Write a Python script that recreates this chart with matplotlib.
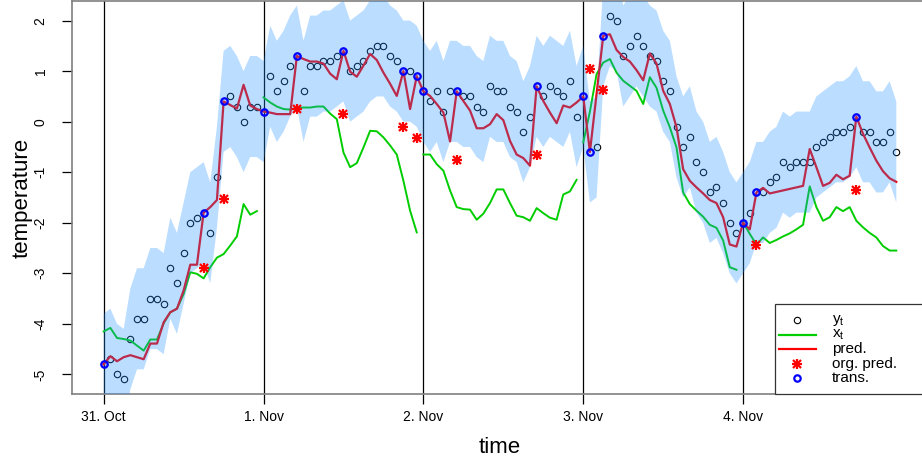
import numpy as np
import matplotlib
matplotlib.use("Agg")
import matplotlib.pyplot as plt
from matplotlib.lines import Line2D
from matplotlib.patches import Rectangle

plt.rcParams['font.family'] = ['Liberation Sans', 'DejaVu Sans']
plt.rcParams['mathtext.fontset'] = 'custom'
plt.rcParams['mathtext.rm'] = 'Liberation Sans'
plt.rcParams['mathtext.it'] = 'Liberation Sans'

# hourly series, 31 Oct 00:00 .. 4 Nov 23:00
y_t = [-4.8, -4.7, -5.0, -5.1, -4.3, -3.9, -3.9, -3.5, -3.5, -3.6,
       -2.9, -3.2, -2.6, -2.0, -1.9, -1.8, -2.2, -1.1, 0.4, 0.5,
       0.3, 0.0, 0.3, 0.3, 0.2, 0.9, 0.6, 0.8, 1.1, 1.3,
       0.6, 1.1, 1.1, 1.2, 1.2, 1.3, 1.4, 1.0, 1.1, 1.2,
       1.4, 1.5, 1.5, 1.3, 1.2, 1.0, 1.0, 0.9, 0.6, 0.4,
       0.6, 0.2, 0.6, 0.6, 0.5, 0.5, 0.3, 0.2, 0.7, 0.6,
       0.6, 0.3, 0.2, -0.2, 0.1, 0.7, 0.5, 0.7, 0.6, 0.5,
       0.8, 0.1, 0.5, -0.6, -0.5, 1.7, 2.1, 2.0, 1.3, 1.5,
       1.7, 1.5, 1.3, 1.2, 0.8, 0.6, -0.1, -0.5, -0.3, -0.8,
       -1.0, -1.4, -1.3, -1.6, -2.0, -2.2, -2.0, -1.8, -1.4, -1.4,
       -1.2, -1.1, -0.8, -0.9, -0.8, -0.8, -0.8, -0.5, -0.4, -0.3,
       -0.2, -0.2, -0.1, 0.1, -0.2, -0.2, -0.4, -0.4, -0.2, -0.6]

x_t = [-4.15, -4.08, -4.28, -4.30, -4.33, -4.43, -4.53, -4.31, -4.31, -3.99,
       -3.77, -3.70, -3.41, -2.98, -3.01, -3.10, -2.88, -2.69, -2.62, -2.45,
       -2.27, -1.63, -1.84, -1.77,
       0.48, 0.38, 0.30, 0.25, 0.24, 0.27, 0.28, 0.28, 0.30, 0.30,
       0.16, 0.05, -0.61, -0.90, -0.82, -0.51, -0.18, -0.19, -0.31, -0.47,
       -0.65, -1.17, -1.76, -2.19,
       -0.65, -0.65, -0.84, -0.97, -1.36, -1.69, -1.73, -1.74, -1.94, -1.82,
       -1.61, -1.34, -1.34, -1.61, -1.86, -1.89, -1.96, -1.71, -1.81, -1.90,
       -1.94, -1.44, -1.38, -1.15,
       -0.41, 0.20, 0.94, 1.17, 1.24, 0.97, 0.81, 0.71, 0.61, 0.35,
       0.88, 0.67, 0.22, -0.11, -0.51, -1.40, -1.63, -1.76, -1.88, -2.04,
       -2.10, -2.35, -2.88, -2.93,
       -1.99, -2.22, -2.43, -2.29, -2.40, -2.34, -2.27, -2.21, -2.13, -2.04,
       -1.28, -1.69, -1.96, -1.89, -1.69, -1.77, -1.69, -1.96, -2.09, -2.20,
       -2.29, -2.46, -2.55, -2.55]

pred = [-4.80, -4.64, -4.74, -4.66, -4.62, -4.66, -4.70, -4.39, -4.39, -3.97,
        -3.77, -3.70, -3.34, -2.83, -2.83, -1.80, -1.69, -1.55, 0.40, 0.33,
        0.26, 0.73, 0.32, 0.25, 0.20, 0.18, 0.15, 0.15, 0.15, 1.30,
        1.24, 1.19, 1.19, 1.15, 0.95, 0.84, 1.40, 0.99, 0.89, 1.11,
        1.34, 1.22, 0.97, 0.75, 0.51, 1.00, 0.25, 0.90, 0.60, 0.51,
        0.35, 0.18, -0.39, 0.60, 0.41, 0.22, -0.13, -0.13, -0.05, 0.15,
        0.03, -0.38, -0.65, -0.72, -0.87, 0.70, 0.41, 0.18, -0.03, 0.32,
        0.28, 0.38, 0.50, -0.60, 0.55, 1.70, 1.73, 1.42, 1.28, 1.19,
        1.02, 0.82, 1.35, 1.15, 0.61, 0.35, -0.11, -0.94, -1.17, -1.30,
        -1.42, -1.55, -1.61, -1.89, -2.43, -2.47, -2.00, -2.13, -1.40, -1.31,
        -1.42, -1.39, -1.36, -1.33, -1.30, -1.27, -0.54, -0.90, -1.27, -1.21,
        -1.05, -1.14, -1.07, 0.10, -0.24, -0.51, -0.77, -0.98, -1.12, -1.19]

band_hi = [-3.8, -3.7, -4.0, -4.1, -3.3, -2.9, -2.9, -2.5, -2.5, -2.6,
           -1.9, -2.2, -1.6, -1.0, -0.9, -0.8, -1.2, -0.1, 1.4, 1.5,
           1.3, 1.0, 1.3, 1.3, 1.2, 1.9, 1.6, 1.8, 2.1, 2.3,
           1.6, 2.1, 2.1, 2.2, 2.2, 2.3, 2.4, 2.0, 2.1, 2.2,
           2.4, 2.5, 2.5, 2.3, 2.2, 2.0, 2.0, 1.9, 1.6, 1.4,
           1.6, 1.2, 1.6, 1.6, 1.5, 1.5, 1.3, 1.2, 1.7, 1.6,
           1.6, 1.3, 1.2, 0.8, 1.1, 1.7, 1.5, 1.7, 1.6, 1.5,
           1.8, 1.1, 1.5, 0.4, 0.5, 2.7, 3.1, 3.0, 2.3, 2.5,
           2.7, 2.5, 2.3, 2.2, 1.8, 1.6, 0.9, 0.5, 0.7, 0.2,
           0.0, -0.4, -0.3, -0.6, -1.0, -1.2, -1.0, -0.8, -0.4, -0.4,
           -0.2, -0.1, 0.2, 0.1, 0.2, 0.2, 0.2, 0.5, 0.6, 0.7,
           0.8, 0.8, 0.9, 1.1, 0.8, 0.8, 0.6, 0.6, 0.8, 0.4]

band_lo = [-5.8, -5.7, -6.0, -6.1, -5.3, -4.9, -4.9, -4.5, -4.5, -4.6,
           -3.9, -4.2, -3.6, -3.0, -2.9, -2.8, -3.2, -2.1, -0.6, -0.5,
           -0.7, -1.0, -0.7, -0.7, -0.8, -0.1, -0.4, -0.2, 0.1, 0.3,
           -0.4, 0.1, 0.1, 0.2, 0.2, 0.3, 0.4, 0.0, 0.1, 0.2,
           0.4, 0.5, 0.5, 0.3, 0.2, 0.0, 0.0, -0.1, -0.4, -0.6,
           -0.4, -0.8, -0.4, -0.4, -0.5, -0.5, -0.7, -0.8, -0.3, -0.4,
           -0.4, -0.7, -0.8, -1.2, -0.9, -0.3, -0.5, -0.3, -0.4, -0.5,
           -0.2, -0.9, -0.5, -1.6, -1.5, 0.7, 1.1, 1.0, 0.3, 0.5,
           0.7, 0.5, 0.3, 0.2, -0.2, -0.4, -1.1, -1.5, -1.3, -1.8,
           -2.0, -2.4, -2.3, -2.6, -3.0, -3.2, -3.0, -2.8, -2.4, -2.4,
           -2.2, -2.1, -1.8, -1.9, -1.8, -1.8, -1.8, -1.5, -1.4, -1.3,
           -1.2, -1.2, -1.1, -0.9, -1.2, -1.2, -1.4, -1.4, -1.2, -1.6]

# hours at which the prediction was reset to the observation
trans_idx = [0, 15, 18, 24, 29, 36, 45, 47, 48, 53, 65, 72, 73, 75, 96, 98, 113]
# original prediction at reset hours
org_idx = [15, 18, 29, 36, 45, 47, 53, 65, 73, 75, 98, 113]
org_pred = [-2.90, -1.52, 0.25, 0.16, -0.10, -0.33, -0.75, -0.66, 1.04, 0.63, -2.43, -1.35]

day_labels = ['31. Oct', '1. Nov', '2. Nov', '3. Nov', '4. Nov']
legend_labels = [r'y$_\mathrm{t}$', r'x$_\mathrm{t}$', 'pred.', 'org. pred.', 'trans.']

hours = np.arange(len(y_t))
day_pos = np.arange(len(day_labels)) * 24
y_t = np.array(y_t)

W, H = 922, 461
fig = plt.figure(figsize=(W / 100, H / 100), dpi=100)
ax = fig.add_axes([72 / W, 67 / H, 856 / W, 393 / H])

for d in day_pos:
    ax.axvline(d, color='black', lw=0.9, zorder=1)

ax.plot(hours, y_t, 'o', mfc='none', mec='black', ms=4.6, mew=0.8, zorder=2)
for d in day_pos:
    ax.plot(hours[d:d + 24], x_t[d:d + 24], color='#00CD00', lw=1.4, zorder=3)
ax.plot(hours, pred, color='red', lw=1.6, zorder=3)

# tolerance band on top, semi-transparent
ax.fill_between(hours, band_lo, band_hi, color='dodgerblue', alpha=0.3, lw=0, zorder=5)

ax.plot(hours[trans_idx], y_t[trans_idx], 'o', mfc='none', mec='blue', ms=4.6, mew=1.6, zorder=6)
ax.plot(org_idx, org_pred, '+', color='red', ms=7, mew=1.6, zorder=6)
ax.plot(org_idx, org_pred, 'x', color='red', ms=5.5, mew=1.6, zorder=6)

ax.set_xlim(-4.76, 123.76)
ax.set_ylim(-5.388, 2.388)
ax.set_xticks(day_pos)
ax.set_xticklabels(day_labels, fontsize=10)
ax.set_yticks(np.arange(-5, 3))
ax.set_yticklabels([str(v) for v in range(-5, 3)], fontsize=10, rotation=90, va='center')
ax.tick_params(axis='both', length=7, width=0.9, color='black')
ax.tick_params(axis='x', pad=4.5)
ax.tick_params(axis='y', pad=10.5)
for s in ax.spines.values():
    s.set_color('#7f7f7f')
    s.set_linewidth(1.2)

ax.set_xlabel('time', fontsize=16, labelpad=9.5)
ax.set_ylabel('temperature', fontsize=16, labelpad=1)


# legend box in the lower right corner, laid out in pixels
def fx(px):
    return px / W


def fy(py):
    return 1 - py / H


fig.patches.append(Rectangle((fx(775), fy(393.5)), fx(935) - fx(775), fy(304) - fy(393.5),
                             transform=fig.transFigure, fill=True, facecolor='white',
                             edgecolor='#333333', lw=0.9, zorder=10))
rows = [320, 334.5, 349, 363.5, 378]
kw = dict(transform=fig.transFigure, zorder=11)
fig.lines.append(Line2D([fx(797)], [fy(rows[0])], ls='none', marker='o', mfc='none',
                        mec='black', ms=4.6, mew=0.8, **kw))
fig.lines.append(Line2D([fx(779), fx(816)], [fy(rows[1])] * 2, color='#00CD00', lw=1.6, **kw))
fig.lines.append(Line2D([fx(779), fx(816)], [fy(rows[2])] * 2, color='red', lw=1.6, **kw))
fig.lines.append(Line2D([fx(797)], [fy(rows[3])], ls='none', marker='+', color='red',
                        ms=7, mew=1.6, **kw))
fig.lines.append(Line2D([fx(797)], [fy(rows[3])], ls='none', marker='x', color='red',
                        ms=5.5, mew=1.6, **kw))
fig.lines.append(Line2D([fx(797)], [fy(rows[4])], ls='none', marker='o', mfc='none',
                        mec='blue', ms=4.6, mew=1.6, **kw))
for r, lab in zip(rows, legend_labels):
    fig.text(fx(832), fy(r), lab, fontsize=11, va='center', ha='left', zorder=12)

fig.savefig('out.png', dpi=100)
